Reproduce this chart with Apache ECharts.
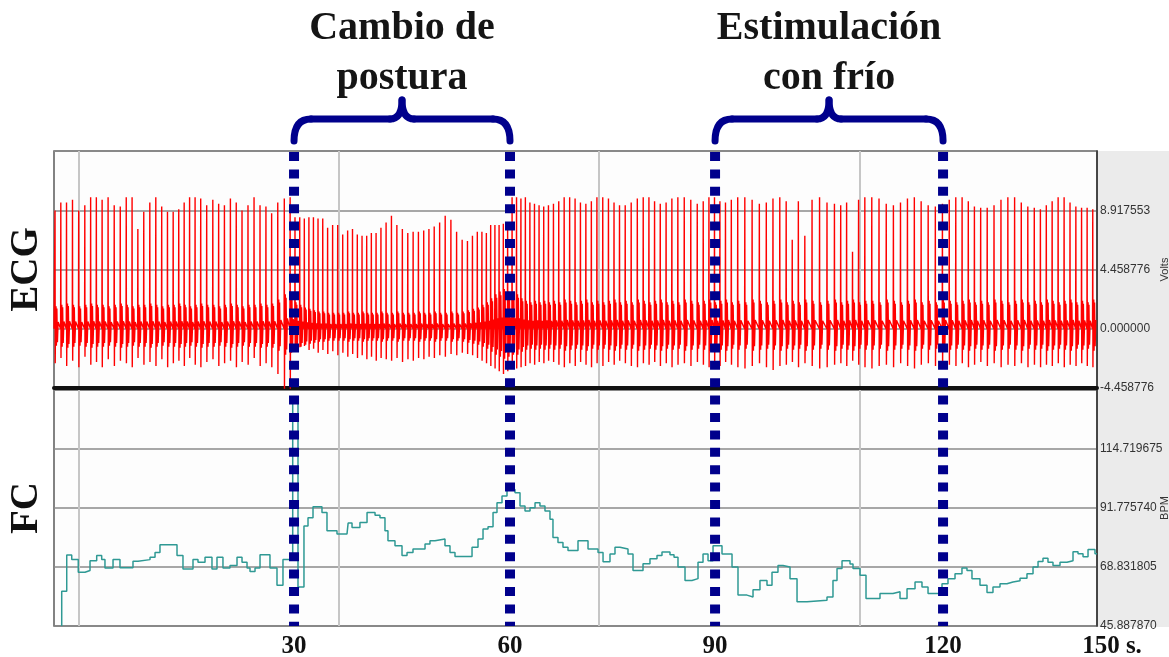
<!DOCTYPE html>
<html>
<head>
<meta charset="utf-8">
<script src="https://cdn.jsdelivr.net/npm/echarts@6/dist/echarts.min.js"></script>
<style>
  html, body { margin: 0; padding: 0; background: #ffffff; }
  #chart { width: 1169px; height: 657px; }
</style>
</head>
<body>
<div id="chart"></div>
<script>
// ---- time axis (seconds) ----
const timeMin = 0;
const timeMax = 150;
const gridTimes = [3.49, 41.0, 78.4, 115.9];          // vertical grid lines of the recorder
const eventTimes = [34.52, 65.58, 95.07, 127.86];     // start / end of each manoeuvre
const eventLabels = ['30', '60', '90', '120'];
const endLabel = '150 s.';
const episodeNames = ['Cambio de\npostura', 'Estimulación\ncon frío'];
const episodeBounds = [[0, 1], [2, 3]];               // indexes into eventTimes

// ---- value axes (tick values and the labels the recorder prints) ----
const ecgTicks = [-4.458776, 0, 4.458776, 8.917553, 13.376329];
const ecgTickLabels = ['-4.458776', '0.000000', '4.458776', '8.917553', ''];
const fcTicks = [45.88787, 68.831805, 91.77574, 114.719675, 137.66361];
const fcTickLabels = ['45.887870', '68.831805', '91.775740', '114.719675', ''];

// ---- ECG: beat onset, RR intervals (s), R peak and S trough (V), T/noise band amplitude (V) ----
const ecgStart = 0.15;
const ecgRR = [
  0.83,0.82,0.86,0.89,0.88,0.84,0.82,0.83,0.86,0.88, 0.87,0.86,0.84,0.83,0.85,0.87,0.86,0.85,0.83,0.82,
  0.80,0.78,0.78,0.79,0.81,0.86,0.88,0.84,0.83,0.86, 0.84,0.83,0.86,0.87,0.86,0.85,0.82,0.88,0.94,0.84,
  0.70,0.68,0.66,0.66,0.65,0.66,0.68,0.70,0.72,0.73, 0.72,0.71,0.70,0.69,0.68,0.67,0.67,0.68,0.70,0.74,
  0.77,0.78,0.79,0.78,0.77,0.76,0.76,0.75,0.76,0.78, 0.80,0.82,0.82,0.80,0.76,0.72,0.70,0.66,0.64,0.62,
  0.61,0.60,0.61,0.62,0.64,
  0.64,0.63,0.64,0.65,0.66,0.66,0.67,0.68,
  0.72,0.76,0.78,0.79,0.78,0.77,0.78,0.79,0.80,
  0.84,0.82,0.80,0.79,0.82,0.86,0.88,0.85,0.82,0.81,0.82,0.84,0.83,0.86,
  0.92,0.94,0.93,0.86,0.82,0.80,0.78,0.80,0.84,
  0.92,1.02,1.05,1.04,1.00,0.96,0.98,0.92,0.87,0.88,0.93,1.04,1.08,1.07,1.07,
  0.90,0.85,0.85,0.87,0.90,
  1.00,1.04,1.04,1.03,1.02,1.00,0.99,0.98,1.01,1.03,1.02,0.98,
  0.94,0.91,0.89,0.88,0.90,0.94,0.98,1.00,0.99,0.97,0.96,0.94,0.93,
  0.88,0.85,0.84,0.86,0.86,0.85,0.84,0.82,0.80,0.81
];
const ecgR = [
  8.9,9.5,9.5,9.7,8.9,9.3,9.9,9.9,9.7,9.9, 9.3,9.2,9.9,9.9,7.5,8.8,9.5,9.9,9.2,8.8,
  8.8,9.0,9.5,9.9,9.9,9.8,9.3,9.7,9.4,9.3, 9.8,9.5,8.9,9.3,9.9,9.3,9.2,8.7,9.5,9.8,9.9,
  8.4,8.4,8.3,8.4,8.4,8.3,8.3,7.6,7.8,7.8, 7.1,7.4,7.5,7.1,7.0,7.0,7.2,7.2,7.6,8.0,
  8.5,7.8,7.5,7.2,7.3,7.3,7.4,7.5,7.7,8.0, 8.5,8.2,7.3,6.7,6.6,7.0,7.3,7.3,7.2,7.8,
  7.8,7.8,7.9,8.0,9.9,
  9.9,9.8,9.9,9.5,9.4,9.3,9.2,9.3,
  9.4,9.6,9.9,9.9,9.8,9.5,9.4,9.6,9.9,
  9.9,9.8,9.5,9.3,9.3,9.5,9.8,9.9,9.9,9.6,9.4,9.5,9.8,9.9,
  9.9,9.7,9.4,9.6,9.9,9.9,9.6,9.5,9.7,
  9.9,9.9,9.7,9.4,9.5,9.8,9.9,9.6,6.7,9.6,7.0,9.7,9.9,9.5,9.4,
  9.3,9.5,5.8,9.7,9.9,
  9.9,9.8,9.4,9.3,9.5,9.8,9.9,9.6,9.3,9.2,9.4,9.7,
  9.9,9.9,9.6,9.2,9.1,9.1,9.3,9.7,9.9,9.9,9.5,9.2,9.1,
  9.0,9.3,9.6,9.9,9.9,9.5,9.2,9.1,9.1,9.0
];
const ecgS = [
  -2.6,-2.2,-2.8,-2.4,-2.9,-2.1,-2.7,-2.5,-2.9,-2.3, -2.8,-2.4,-2.6,-2.9,-2.2,-2.7,-2.5,-2.8,-2.3,-2.9,
  -2.6,-2.4,-2.8,-2.2,-2.7,-2.9,-2.5,-2.3,-2.8,-2.6, -2.4,-2.9,-2.5,-2.7,-2.2,-2.8,-2.6,-2.9,-3.4,-4.6,-4.6,
  -1.2,-1.4,-1.3,-1.6,-1.5,-1.8,-1.6,-1.9,-1.7,-2.0, -1.8,-2.1,-1.9,-2.2,-2.0,-2.3,-2.1,-2.4,-2.2,-2.3,
  -2.4,-2.2,-2.5,-2.3,-2.4,-2.2,-2.3,-2.1,-2.2,-2.0, -2.1,-1.9,-2.0,-1.8,-1.9,-2.0,-2.2,-2.4,-2.6,-2.8,
  -3.0,-3.2,-3.4,-3.2,-3.0,
  -3.0,-2.9,-2.8,-2.6,-2.7,-2.5,-2.6,-2.4,
  -2.5,-2.7,-2.9,-2.6,-2.8,-2.5,-2.7,-2.9,-2.6,
  -2.8,-2.5,-2.7,-2.4,-2.6,-2.8,-2.9,-2.6,-2.7,-2.5,-2.8,-2.6,-2.9,-2.7,
  -2.6,-2.8,-2.5,-2.7,-2.9,-2.6,-2.8,-2.5,-2.7,
  -2.9,-3.0,-2.8,-2.6,-2.9,-3.1,-2.8,-2.7,-2.5,-2.9,-2.6,-2.8,-3.0,-2.9,-2.7,
  -2.6,-2.8,-2.4,-2.7,-2.9,
  -3.0,-2.8,-2.7,-2.9,-2.6,-2.8,-3.0,-2.7,-2.6,-2.8,-2.9,-2.7,
  -2.8,-2.6,-2.9,-2.7,-2.5,-2.8,-2.6,-2.9,-2.7,-2.8,-2.6,-2.9,-2.7,
  -2.9,-2.7,-2.8,-2.6,-2.9,-2.7,-2.8,-2.6,-2.8,-2.9
];
const ecgBand = [
  1.7,1.8,1.9,1.8,1.7,1.8,1.9,1.8,1.8,1.7, 1.8,1.9,1.8,1.7,1.8,1.8,1.9,1.8,1.7,1.8,
  1.8,1.9,1.8,1.7,1.8,1.9,1.8,1.8,1.7,1.8, 1.9,1.8,1.7,1.8,1.8,1.9,1.8,1.9,2.2,2.6,2.4,
  2.0,1.8,1.6,1.5,1.4,1.3,1.3,1.2,1.2,1.2, 1.2,1.3,1.2,1.2,1.3,1.2,1.2,1.2,1.3,1.2,
  1.2,1.3,1.2,1.2,1.2,1.3,1.2,1.2,1.3,1.2, 1.2,1.3,1.2,1.3,1.4,1.5,1.6,1.8,2.0,2.3,
  2.6,2.8,3.0,2.8,2.6,
  2.6,2.3,2.1,2.0,2.1,2.0,2.1,2.0,
  2.1,2.0,2.2,2.1,2.0,2.1,2.2,2.0,2.1,
  2.0,2.1,2.2,2.0,2.1,2.0,2.2,2.1,2.0,2.1,2.2,2.0,2.1,2.0,
  2.2,2.1,2.0,2.1,2.2,2.0,2.1,2.2,2.0,
  2.1,2.0,2.2,2.1,2.0,2.1,2.2,2.0,2.1,2.0,2.2,2.1,2.0,2.1,2.2,
  2.0,2.1,2.2,2.0,2.1,
  2.1,2.0,2.2,2.1,2.0,2.1,2.2,2.0,2.1,2.0,2.2,2.1,
  2.0,2.1,2.2,2.0,2.1,2.0,2.2,2.1,2.0,2.1,2.2,2.0,2.1,
  2.0,2.2,2.1,2.0,2.1,2.2,2.0,2.1,2.0,2.2
];
// shape of the T wave / noise after each QRS (offset s, fraction of band)
const waveOffsets = [0.06, 0.14, 0.19, 0.26, 0.34, 0.44];
const waveShape = [0.2, 1.0, -0.75, 0.9, -0.6, 0.3];

// ---- FC: heart rate step trace (s, BPM) ----
const fcTime = [
  1.11,1.11,1.83,2.55,3.49,4.46,5.18,6.14,6.86,7.33,8.49,9.49,11.36,12.08,13.81,14.53,15.24,17.69,18.55,19.99,
  20.71,21.72,22.72,23.44,24.30,25.31,26.32,27.04,27.76,28.19,28.91,29.63,31.06,32.07,32.93,34.33,35.09,35.95,36.53,37.25,
  38.54,39.26,40.70,42.14,42.30,42.86,44.00,45.02,46.17,46.88,47.60,48.03,49.04,50.05,50.77,51.63,53.36,54.07,54.79,56.23,
  56.95,57.67,60.12,60.98,61.70,62.42,63.14,63.71,64.43,65.15,66.30,67.02,67.74,68.46,69.18,69.89,70.61,71.33,71.76,72.48,
  73.20,73.92,75.36,76.80,78.24,78.96,79.96,80.68,81.40,82.55,83.27,84.71,85.71,86.72,87.44,88.59,89.17,89.74,90.75,91.75,
  92.62,93.34,94.06,94.78,96.07,97.51,98.37,99.66,100.53,101.53,102.54,103.26,104.12,104.84,105.85,106.86,108.30,111.17,112.03,112.61,
  113.33,114.48,114.91,115.92,116.78,118.79,120.66,121.67,122.68,123.83,124.83,125.70,127.71,128.57,129.58,130.58,131.30,132.02,133.17,134.18,
  135.04,136.05,137.05,137.92,138.93,139.93,140.80,141.52,142.23,142.95,143.67,144.68,145.68,146.55,147.27,147.99,148.71,149.71,150.00
];
const fcBpm = [
  45.9,59.4,73.5,71.7,66.8,67.5,71.3,73.3,71.7,68.4,71.7,68.5,71.1,71.7,72.6,74.5,77.5,73.3,68.1,71.7,
  70.7,72.6,68.1,72.6,68.4,69.4,72.6,70.7,68.4,67.1,68.4,73.6,68.4,61.7,71.7,133.0,61.1,84.8,88.0,92.3,
  90.0,82.9,81.7,82.3,85.9,84.2,86.1,90.0,89.0,88.0,82.9,79.0,77.1,73.3,74.5,75.8,77.8,79.0,79.7,77.1,
  74.5,72.9,76.5,79.7,83.6,84.5,90.0,93.8,96.4,99.0,97.7,92.6,90.6,91.9,93.8,92.6,90.6,87.4,80.3,78.4,
  76.5,75.2,79.0,75.8,74.5,70.9,73.9,76.5,75.8,73.9,67.5,70.1,72.0,73.3,74.7,73.6,72.6,68.8,63.6,64.3,
  70.7,73.9,71.3,77.1,73.9,68.8,57.9,57.2,60.0,63.6,61.7,66.8,69.4,68.8,64.3,55.3,55.9,57.2,63.6,68.2,
  71.3,70.0,68.2,65.6,56.6,58.5,59.2,56.6,60.4,63.0,61.1,58.5,62.3,64.3,66.2,68.4,67.5,64.3,61.7,58.9,
  61.1,62.3,63.0,63.5,64.5,66.2,68.8,71.0,72.2,70.7,69.4,70.7,71.3,74.8,74.0,72.8,75.6,74.0,74.0
];

// ---- build the ECG polyline from the beat tables ----
function buildEcg() {
  const pts = [[timeMin, 0]];
  let t = ecgStart;
  for (let i = 0; i < ecgR.length; i++) {
    const rr = i < ecgRR.length ? ecgRR[i] : 0.85;
    pts.push([t - 0.03, 0]);
    pts.push([t, ecgR[i]]);
    pts.push([t + 0.025, ecgS[i]]);
    for (let k = 0; k < waveOffsets.length; k++) {
      if (waveOffsets[k] < rr - 0.05) pts.push([t + waveOffsets[k], waveShape[k] * ecgBand[i]]);
    }
    t += rr;
  }
  return pts;
}
const ecgData = buildEcg();
const fcData = fcTime.map((t, i) => [t, fcBpm[i]]);

// ---- layout ----
const plotLeft = 54, plotRight = 72;
const ecgGrid = { left: plotLeft, right: plotRight, top: 151, height: 237 };
const fcGrid = { left: plotLeft, right: plotRight, top: 390, height: 236 };
const navy = '#00008c';
const sideFont = '"Liberation Sans", Arial, sans-serif';
const serif = '"Liberation Serif", "DejaVu Serif", serif';

const xLabelTimes = eventTimes.concat([timeMax]);
const xLabelTexts = eventLabels.concat([endLabel]);

function tickText(ticks, labels) {
  return v => {
    let best = 0;
    ticks.forEach((t, i) => { if (Math.abs(t - v) < Math.abs(ticks[best] - v)) best = i; });
    return labels[best];
  };
}
function gridOpt(g) {
  return Object.assign({
    show: true, backgroundColor: '#fdfdfd', borderColor: '#5a5a5a', borderWidth: 1.5,
    containLabel: false, outerBoundsMode: 'none'
  }, g);
}
function xAxisOpt(gridIndex, withLabels) {
  return {
    type: 'value', gridIndex, min: timeMin, max: timeMax,
    axisLine: withLabels ? { show: false } : { show: true, onZero: false, lineStyle: { color: '#111', width: 4 } },
    axisTick: { show: false, customValues: gridTimes },
    splitLine: { show: true, lineStyle: { color: '#c6c6c6', width: 2 } },
    axisLabel: withLabels ? {
      show: true, customValues: xLabelTimes, margin: 8,
      fontFamily: serif, fontWeight: 'bold', fontSize: 25, color: '#111',
      formatter: v => {
        const i = xLabelTimes.findIndex(t => Math.abs(t - v) < 1e-6);
        if (i < 0) return '';
        return i === xLabelTimes.length - 1 ? '{pad|}' + xLabelTexts[i] : xLabelTexts[i];
      },
      rich: { pad: { width: 30 } }
    } : { show: false }
  };
}
function yAxisOpt(gridIndex, ticks, labels, name) {
  return {
    type: 'value', gridIndex, position: 'right',
    min: ticks[0], max: ticks[ticks.length - 1], interval: ticks[1] - ticks[0],
    name, nameLocation: 'middle', nameRotate: 90, nameGap: 62, nameMoveOverlap: false,
    nameTextStyle: { fontFamily: sideFont, fontSize: 11, color: '#333' },
    axisLine: { show: true, onZero: false, lineStyle: { color: '#333', width: 1.5 } },
    axisTick: { show: false },
    axisLabel: {
      show: true, margin: 3,
      fontFamily: sideFont, fontSize: 12, color: '#333', formatter: tickText(ticks, labels)
    },
    splitLine: { show: true, lineStyle: { color: '#8a8a8a', width: 1.5 } }
  };
}

const chart = echarts.init(document.getElementById('chart'), null, { renderer: 'canvas' });
chart.setOption({
  animation: false,
  backgroundColor: '#ffffff',
  grid: [gridOpt(ecgGrid), gridOpt(fcGrid)],
  xAxis: [xAxisOpt(0, false), xAxisOpt(1, true)],
  yAxis: [yAxisOpt(0, ecgTicks, ecgTickLabels, 'Volts'), yAxisOpt(1, fcTicks, fcTickLabels, 'BPM')],
  series: [
    {
      name: 'ECG', type: 'line', xAxisIndex: 0, yAxisIndex: 0, data: ecgData,
      symbol: 'none', showSymbol: false, silent: true, clip: true,
      lineStyle: { color: '#ff0000', width: 1.4 }
    },
    {
      name: 'FC', type: 'line', xAxisIndex: 1, yAxisIndex: 1, data: fcData, step: 'end',
      symbol: 'none', showSymbol: false, silent: true, clip: true,
      lineStyle: { color: '#2f9994', width: 1.5 }
    }
  ]
});

// ---- overlays placed with the chart's own x scale ----
const xPix = t => chart.convertToPixel({ xAxisIndex: 1 }, t);
const topY = ecgGrid.top;
const bottomY = fcGrid.top + fcGrid.height;
const chartW = chart.getWidth();
const overlays = [];

overlays.push({
  type: 'rect', z: -1, silent: true,
  shape: { x: chartW - plotRight, y: topY, width: plotRight, height: bottomY - topY + 1 },
  style: { fill: '#ebebeb' }
});

overlays.push({
  type: 'text', silent: true, x: 27, y: topY + ecgGrid.height / 2, rotation: Math.PI / 2,
  style: { text: 'ECG', fill: '#111', font: 'bold 39px ' + serif, align: 'center', verticalAlign: 'middle' }
});
overlays.push({
  type: 'text', silent: true, x: 27, y: fcGrid.top + fcGrid.height / 2, rotation: Math.PI / 2,
  style: { text: 'FC', fill: '#111', font: 'bold 39px ' + serif, align: 'center', verticalAlign: 'middle' }
});

eventTimes.forEach(t => {
  const x = xPix(t);
  overlays.push({
    type: 'line', z: 50, silent: true,
    shape: { x1: x, y1: topY + 1, x2: x, y2: bottomY },
    style: { stroke: navy, lineWidth: 10, lineDash: [9, 8.4], lineCap: 'butt' }
  });
});

const braceEnd = 141, braceArm = 119, braceTip = 100;
episodeBounds.forEach((b, n) => {
  const x0 = xPix(eventTimes[b[0]]);
  const x1 = xPix(eventTimes[b[1]]);
  const xm = (x0 + x1) / 2;
  const st = { stroke: navy, lineWidth: 7, lineCap: 'round', fill: null };
  overlays.push({ type: 'bezierCurve', z: 50, silent: true,
    shape: { x1: x0, y1: braceEnd, cpx1: x0, cpy1: braceArm, x2: x0 + 17, y2: braceArm }, style: st });
  overlays.push({ type: 'line', z: 50, silent: true,
    shape: { x1: x0 + 17, y1: braceArm, x2: xm - 12, y2: braceArm }, style: st });
  overlays.push({ type: 'bezierCurve', z: 50, silent: true,
    shape: { x1: xm - 12, y1: braceArm, cpx1: xm, cpy1: braceArm, x2: xm, y2: braceTip }, style: st });
  overlays.push({ type: 'bezierCurve', z: 50, silent: true,
    shape: { x1: xm, y1: braceTip, cpx1: xm, cpy1: braceArm, x2: xm + 12, y2: braceArm }, style: st });
  overlays.push({ type: 'line', z: 50, silent: true,
    shape: { x1: xm + 12, y1: braceArm, x2: x1 - 17, y2: braceArm }, style: st });
  overlays.push({ type: 'bezierCurve', z: 50, silent: true,
    shape: { x1: x1 - 17, y1: braceArm, cpx1: x1, cpy1: braceArm, x2: x1, y2: braceEnd }, style: st });
  overlays.push({
    type: 'text', z: 50, silent: true, x: xm, y: 4,
    style: { text: episodeNames[n], fill: '#151515', font: 'bold 40px ' + serif,
      align: 'center', verticalAlign: 'top', lineHeight: 50 }
  });
});

chart.setOption({ graphic: overlays });
</script>
</body>
</html>
